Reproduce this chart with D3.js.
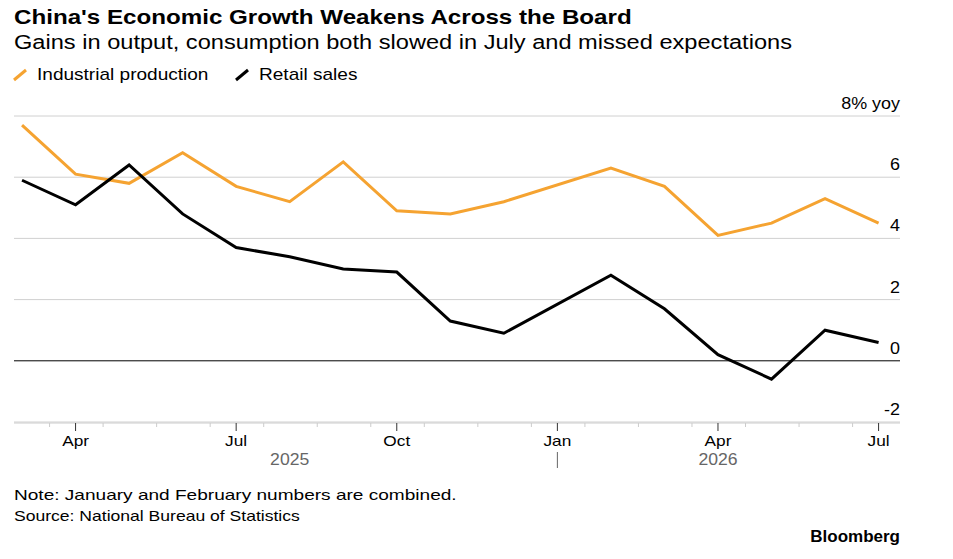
<!DOCTYPE html>
<html><head><meta charset="utf-8">
<script src="https://cdn.jsdelivr.net/npm/d3@7"></script>
<style>body{margin:0;background:#fff;font-family:"Liberation Sans",Arial,sans-serif}</style>
</head><body><svg id="c" width="953" height="559"></svg>
<script>
// month index 0 = Mar 2025; Jan/Feb combined plotted at Feb
const months = [0,1,2,3,4,5,6,7,8,9,11,12,13,14,15,16];
const industrial = [7.7,6.1,5.8,6.8,5.7,5.2,6.5,4.9,4.8,5.2,6.3,5.7,4.1,4.5,5.3,4.5];
const retail = [5.9,5.1,6.4,4.8,3.7,3.4,3.0,2.9,1.3,0.9,2.8,1.7,0.2,-0.6,1.0,0.6];
const yTicks = [-2,0,2,4,6,8];
const xTickMonths = [1,4,7,10,13,16];
const xTickLabels = ["Apr","Jul","Oct","Jan","Apr","Jul"];
const years = [{label:"2025",m:5},{label:"2026",m:13}];

const svg = d3.select("#c");
const x = d3.scaleLinear().domain([-0.15,16.4]).range([14,900]);
const y = d3.scaleLinear().domain([-2,8]).range([422,116]);
function stretch(t,k){const n=t.node();const w=n.getComputedTextLength();t.attr("textLength",w*k).attr("lengthAdjust","spacingAndGlyphs");return t;}

stretch(svg.append("text").attr("x",14).attr("y",24).attr("font-size",21).attr("font-weight","bold").attr("fill","#000").text("China's Economic Growth Weakens Across the Board"),1.15);
stretch(svg.append("text").attr("x",14).attr("y",49).attr("font-size",20).attr("fill","#000").text("Gains in output, consumption both slowed in July and missed expectations"),1.18);
const leg=[["Industrial production","#f5a331",14],["Retail sales","#000",236]];
leg.forEach(([t,c,lx])=>{
  svg.append("line").attr("x1",lx).attr("y1",80).attr("x2",lx+12).attr("y2",70).attr("stroke",c).attr("stroke-width",3);
  stretch(svg.append("text").attr("x",lx+23).attr("y",80).attr("font-size",17).text(t),1.12);
});

yTicks.forEach(v=>{
  svg.append("line").attr("x1",14).attr("x2",900).attr("y1",y(v)).attr("y2",y(v))
    .attr("stroke",v===0?"#000":"#d0d0d0").attr("stroke-width",1);
  stretch(svg.append("text").attr("x",900).attr("y",y(v)-7).attr("text-anchor","end").attr("font-size",16)
    .text(v===8?"8% yoy":v),1.12);
});
// axis
svg.append("line").attr("x1",14).attr("x2",900).attr("y1",423).attr("y2",423).attr("stroke","#ccc");
d3.range(0,17).forEach(m=>{
  svg.append("line").attr("x1",x(m)-26).attr("x2",x(m)-26).attr("y1",423).attr("y2",427).attr("stroke","#ccc");
});
xTickMonths.forEach((m,i)=>{
  svg.append("line").attr("x1",x(m)).attr("x2",x(m)).attr("y1",423).attr("y2",431).attr("stroke","#333");
  stretch(svg.append("text").attr("x",x(m)).attr("y",446).attr("text-anchor","middle").attr("font-size",15).text(xTickLabels[i]),1.15);
});
years.forEach(yr=>stretch(svg.append("text").attr("x",x(yr.m)).attr("y",465).attr("text-anchor","middle").attr("font-size",16).attr("fill","#666").text(yr.label),1.1));
svg.append("line").attr("x1",x(10)).attr("x2",x(10)).attr("y1",452).attr("y2",468).attr("stroke","#666");

const line = d3.line().x((d,i)=>x(months[i])).y(d=>y(d));
svg.append("path").attr("d",line(industrial)).attr("fill","none").attr("stroke","#f5a331").attr("stroke-width",3);
svg.append("path").attr("d",line(retail)).attr("fill","none").attr("stroke","#000").attr("stroke-width",3);

stretch(svg.append("text").attr("x",14).attr("y",500).attr("font-size",15).text("Note: January and February numbers are combined."),1.27);
stretch(svg.append("text").attr("x",14).attr("y",521).attr("font-size",15).text("Source: National Bureau of Statistics"),1.17);
stretch(svg.append("text").attr("x",900).attr("y",542).attr("text-anchor","end").attr("font-size",17).attr("font-weight","bold").text("Bloomberg"),1.0);
</script></body></html>
